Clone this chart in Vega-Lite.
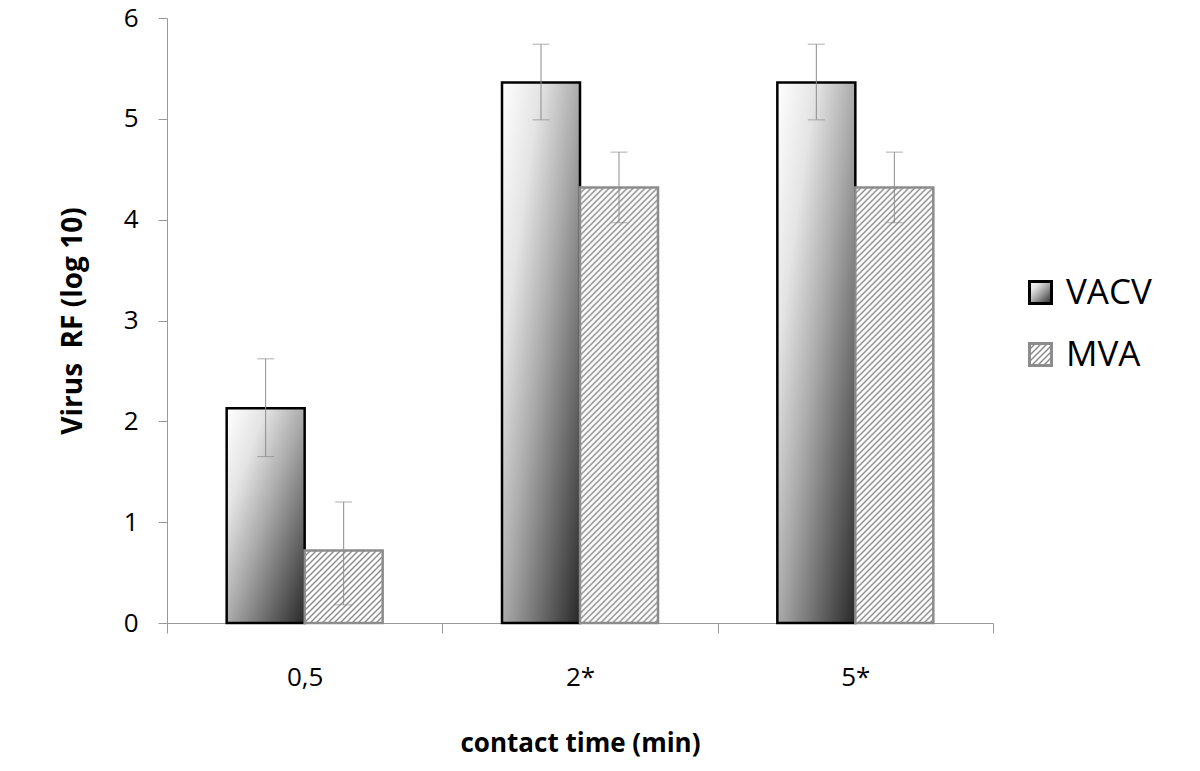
{
  "$schema": "https://vega.github.io/schema/vega-lite/v6.json",
  "autosize": "none",
  "width": 826,
  "height": 605,
  "padding": {"left": 167, "top": 18, "right": 207, "bottom": 148},
  "background": "white",
  "config": {
    "view": {"stroke": null},
    "font": "Open Sans",
    "axis": {"grid": false, "domainColor": "#999", "tickColor": "#999", "labelColor": "#000", "titleColor": "#000", "labelFont": "Open Sans", "titleFont": "Open Sans"}
  },
  "data": {
    "values": [
      {"time": "0,5", "series": "VACV", "value": 2.13, "lo": 1.65, "hi": 2.62},
      {"time": "0,5", "series": "MVA", "value": 0.72, "lo": 0.18, "hi": 1.2},
      {"time": "2*", "series": "VACV", "value": 5.36, "lo": 4.99, "hi": 5.74},
      {"time": "2*", "series": "MVA", "value": 4.32, "lo": 3.97, "hi": 4.67},
      {"time": "5*", "series": "VACV", "value": 5.36, "lo": 4.99, "hi": 5.74},
      {"time": "5*", "series": "MVA", "value": 4.32, "lo": 3.97, "hi": 4.67}
    ]
  },
  "encoding": {
    "x": {
      "field": "time", "type": "nominal", "sort": ["0,5", "2*", "5*"],
      "scale": {"paddingInner": 0, "paddingOuter": 0},
      "axis": {"title": "contact time (min)", "labelAngle": 0, "labelFontSize": 26, "labelPadding": 31, "tickSize": 10, "tickBand": "extent", "titleFontSize": 26, "titleFontWeight": "bold", "titlePadding": 40}
    },
    "xOffset": {"field": "series", "type": "nominal", "sort": ["VACV", "MVA"], "scale": {"paddingInner": 0, "paddingOuter": 0.765}}
  },
  "layer": [
    {
      "transform": [{"filter": "datum.series === 'VACV'"}],
      "mark": {"type": "bar", "strokeWidth": 2.5, "fill": {"id": "gradVacvBar", "gradient": "linear", "x1": 0, "y1": 0, "x2": 1, "y2": 1, "stops": [{"offset": 0, "color": "#ffffff"}, {"offset": 0.25, "color": "#e4e4e4"}, {"offset": 0.5, "color": "#ababab"}, {"offset": 0.75, "color": "#6a6a6a"}, {"offset": 1, "color": "#282828"}]}},
      "encoding": {
        "y": {"field": "value", "type": "quantitative", "scale": {"domain": [0, 6]}, "title": "Virus\u00a0 RF (log 10)",
          "axis": {"values": [0, 1, 2, 3, 4, 5, 6], "format": "d", "labelFontSize": 26, "labelPadding": 20, "tickSize": 9, "titleFontSize": 28, "titleFontWeight": "bold", "titlePadding": 36}},
        "stroke": {"field": "series", "type": "nominal", "scale": {"domain": ["VACV", "MVA"], "range": ["#000000", "#8c8c8c"]},
          "legend": {"orient": "none", "legendX": 856, "legendY": 257, "title": null, "symbolType": "square", "symbolSize": 484, "symbolStrokeWidth": 3, "labelFont": "Open Sans", "labelFontSize": 35, "labelColor": "#000", "labelOffset": 8, "rowPadding": 26, "padding": 0, "labelLimit": 400}
        }
      }
    },
    {
      "transform": [{"filter": "datum.series === 'MVA' && datum.time === '0,5'"}],
      "mark": {"type": "bar", "strokeWidth": 2.5, "stroke": "#8c8c8c", "fill": {"id": "gradMvaSmall", "gradient": "linear", "x1": 0, "y1": 0, "x2": 4.1215, "y2": 3.8362, "stops": [
{"offset":0,"color":"#888"},{"offset":0.0033,"color":"#fff"},{"offset":0.0067,"color":"#fff"},
{"offset":0.01,"color":"#888"},{"offset":0.0133,"color":"#fff"},{"offset":0.0167,"color":"#fff"},
{"offset":0.02,"color":"#888"},{"offset":0.0233,"color":"#fff"},{"offset":0.0267,"color":"#fff"},
{"offset":0.03,"color":"#888"},{"offset":0.0333,"color":"#fff"},{"offset":0.0367,"color":"#fff"},
{"offset":0.04,"color":"#888"},{"offset":0.0433,"color":"#fff"},{"offset":0.0467,"color":"#fff"},
{"offset":0.05,"color":"#888"},{"offset":0.0533,"color":"#fff"},{"offset":0.0567,"color":"#fff"},
{"offset":0.06,"color":"#888"},{"offset":0.0633,"color":"#fff"},{"offset":0.0667,"color":"#fff"},
{"offset":0.07,"color":"#888"},{"offset":0.0733,"color":"#fff"},{"offset":0.0767,"color":"#fff"},
{"offset":0.08,"color":"#888"},{"offset":0.0833,"color":"#fff"},{"offset":0.0867,"color":"#fff"},
{"offset":0.09,"color":"#888"},{"offset":0.0933,"color":"#fff"},{"offset":0.0967,"color":"#fff"},
{"offset":0.1,"color":"#888"},{"offset":0.1033,"color":"#fff"},{"offset":0.1067,"color":"#fff"},
{"offset":0.11,"color":"#888"},{"offset":0.1133,"color":"#fff"},{"offset":0.1167,"color":"#fff"},
{"offset":0.12,"color":"#888"},{"offset":0.1233,"color":"#fff"},{"offset":0.1267,"color":"#fff"},
{"offset":0.13,"color":"#888"},{"offset":0.1333,"color":"#fff"},{"offset":0.1367,"color":"#fff"},
{"offset":0.14,"color":"#888"},{"offset":0.1433,"color":"#fff"},{"offset":0.1467,"color":"#fff"},
{"offset":0.15,"color":"#888"},{"offset":0.1533,"color":"#fff"},{"offset":0.1567,"color":"#fff"},
{"offset":0.16,"color":"#888"},{"offset":0.1633,"color":"#fff"},{"offset":0.1667,"color":"#fff"},
{"offset":0.17,"color":"#888"},{"offset":0.1733,"color":"#fff"},{"offset":0.1767,"color":"#fff"},
{"offset":0.18,"color":"#888"},{"offset":0.1833,"color":"#fff"},{"offset":0.1867,"color":"#fff"},
{"offset":0.19,"color":"#888"},{"offset":0.1933,"color":"#fff"},{"offset":0.1967,"color":"#fff"},
{"offset":0.2,"color":"#888"},{"offset":0.2033,"color":"#fff"},{"offset":0.2067,"color":"#fff"},
{"offset":0.21,"color":"#888"},{"offset":0.2133,"color":"#fff"},{"offset":0.2167,"color":"#fff"},
{"offset":0.22,"color":"#888"},{"offset":0.2233,"color":"#fff"},{"offset":0.2267,"color":"#fff"},
{"offset":0.23,"color":"#888"},{"offset":0.2333,"color":"#fff"},{"offset":0.2367,"color":"#fff"},
{"offset":0.24,"color":"#888"},{"offset":0.2433,"color":"#fff"},{"offset":0.2467,"color":"#fff"},
{"offset":0.25,"color":"#888"},{"offset":0.2533,"color":"#fff"}
      ]}},
      "encoding": {
        "y": {"field": "value", "type": "quantitative", "title": "Virus\u00a0 RF (log 10)"}
      }
    },
    {
      "transform": [{"filter": "datum.series === 'MVA' && datum.time !== '0,5'"}],
      "mark": {"type": "bar", "strokeWidth": 2.5, "stroke": "#8c8c8c", "fill": {"id": "gradMvaBig", "gradient": "linear", "x1": 0, "y1": 0, "x2": 0.2391, "y2": 1.3349, "stops": [
{"offset":0,"color":"#888"},{"offset":0.0033,"color":"#fff"},{"offset":0.0067,"color":"#fff"},
{"offset":0.01,"color":"#888"},{"offset":0.0133,"color":"#fff"},{"offset":0.0167,"color":"#fff"},
{"offset":0.02,"color":"#888"},{"offset":0.0233,"color":"#fff"},{"offset":0.0267,"color":"#fff"},
{"offset":0.03,"color":"#888"},{"offset":0.0333,"color":"#fff"},{"offset":0.0367,"color":"#fff"},
{"offset":0.04,"color":"#888"},{"offset":0.0433,"color":"#fff"},{"offset":0.0467,"color":"#fff"},
{"offset":0.05,"color":"#888"},{"offset":0.0533,"color":"#fff"},{"offset":0.0567,"color":"#fff"},
{"offset":0.06,"color":"#888"},{"offset":0.0633,"color":"#fff"},{"offset":0.0667,"color":"#fff"},
{"offset":0.07,"color":"#888"},{"offset":0.0733,"color":"#fff"},{"offset":0.0767,"color":"#fff"},
{"offset":0.08,"color":"#888"},{"offset":0.0833,"color":"#fff"},{"offset":0.0867,"color":"#fff"},
{"offset":0.09,"color":"#888"},{"offset":0.0933,"color":"#fff"},{"offset":0.0967,"color":"#fff"},
{"offset":0.1,"color":"#888"},{"offset":0.1033,"color":"#fff"},{"offset":0.1067,"color":"#fff"},
{"offset":0.11,"color":"#888"},{"offset":0.1133,"color":"#fff"},{"offset":0.1167,"color":"#fff"},
{"offset":0.12,"color":"#888"},{"offset":0.1233,"color":"#fff"},{"offset":0.1267,"color":"#fff"},
{"offset":0.13,"color":"#888"},{"offset":0.1333,"color":"#fff"},{"offset":0.1367,"color":"#fff"},
{"offset":0.14,"color":"#888"},{"offset":0.1433,"color":"#fff"},{"offset":0.1467,"color":"#fff"},
{"offset":0.15,"color":"#888"},{"offset":0.1533,"color":"#fff"},{"offset":0.1567,"color":"#fff"},
{"offset":0.16,"color":"#888"},{"offset":0.1633,"color":"#fff"},{"offset":0.1667,"color":"#fff"},
{"offset":0.17,"color":"#888"},{"offset":0.1733,"color":"#fff"},{"offset":0.1767,"color":"#fff"},
{"offset":0.18,"color":"#888"},{"offset":0.1833,"color":"#fff"},{"offset":0.1867,"color":"#fff"},
{"offset":0.19,"color":"#888"},{"offset":0.1933,"color":"#fff"},{"offset":0.1967,"color":"#fff"},
{"offset":0.2,"color":"#888"},{"offset":0.2033,"color":"#fff"},{"offset":0.2067,"color":"#fff"},
{"offset":0.21,"color":"#888"},{"offset":0.2133,"color":"#fff"},{"offset":0.2167,"color":"#fff"},
{"offset":0.22,"color":"#888"},{"offset":0.2233,"color":"#fff"},{"offset":0.2267,"color":"#fff"},
{"offset":0.23,"color":"#888"},{"offset":0.2333,"color":"#fff"},{"offset":0.2367,"color":"#fff"},
{"offset":0.24,"color":"#888"},{"offset":0.2433,"color":"#fff"},{"offset":0.2467,"color":"#fff"},
{"offset":0.25,"color":"#888"},{"offset":0.2533,"color":"#fff"},{"offset":0.2567,"color":"#fff"},
{"offset":0.26,"color":"#888"},{"offset":0.2633,"color":"#fff"},{"offset":0.2667,"color":"#fff"},
{"offset":0.27,"color":"#888"},{"offset":0.2733,"color":"#fff"},{"offset":0.2767,"color":"#fff"},
{"offset":0.28,"color":"#888"},{"offset":0.2833,"color":"#fff"},{"offset":0.2867,"color":"#fff"},
{"offset":0.29,"color":"#888"},{"offset":0.2933,"color":"#fff"},{"offset":0.2967,"color":"#fff"},
{"offset":0.3,"color":"#888"},{"offset":0.3033,"color":"#fff"},{"offset":0.3067,"color":"#fff"},
{"offset":0.31,"color":"#888"},{"offset":0.3133,"color":"#fff"},{"offset":0.3167,"color":"#fff"},
{"offset":0.32,"color":"#888"},{"offset":0.3233,"color":"#fff"},{"offset":0.3267,"color":"#fff"},
{"offset":0.33,"color":"#888"},{"offset":0.3333,"color":"#fff"},{"offset":0.3367,"color":"#fff"},
{"offset":0.34,"color":"#888"},{"offset":0.3433,"color":"#fff"},{"offset":0.3467,"color":"#fff"},
{"offset":0.35,"color":"#888"},{"offset":0.3533,"color":"#fff"},{"offset":0.3567,"color":"#fff"},
{"offset":0.36,"color":"#888"},{"offset":0.3633,"color":"#fff"},{"offset":0.3667,"color":"#fff"},
{"offset":0.37,"color":"#888"},{"offset":0.3733,"color":"#fff"},{"offset":0.3767,"color":"#fff"},
{"offset":0.38,"color":"#888"},{"offset":0.3833,"color":"#fff"},{"offset":0.3867,"color":"#fff"},
{"offset":0.39,"color":"#888"},{"offset":0.3933,"color":"#fff"},{"offset":0.3967,"color":"#fff"},
{"offset":0.4,"color":"#888"},{"offset":0.4033,"color":"#fff"},{"offset":0.4067,"color":"#fff"},
{"offset":0.41,"color":"#888"},{"offset":0.4133,"color":"#fff"},{"offset":0.4167,"color":"#fff"},
{"offset":0.42,"color":"#888"},{"offset":0.4233,"color":"#fff"},{"offset":0.4267,"color":"#fff"},
{"offset":0.43,"color":"#888"},{"offset":0.4333,"color":"#fff"},{"offset":0.4367,"color":"#fff"},
{"offset":0.44,"color":"#888"},{"offset":0.4433,"color":"#fff"},{"offset":0.4467,"color":"#fff"},
{"offset":0.45,"color":"#888"},{"offset":0.4533,"color":"#fff"},{"offset":0.4567,"color":"#fff"},
{"offset":0.46,"color":"#888"},{"offset":0.4633,"color":"#fff"},{"offset":0.4667,"color":"#fff"},
{"offset":0.47,"color":"#888"},{"offset":0.4733,"color":"#fff"},{"offset":0.4767,"color":"#fff"},
{"offset":0.48,"color":"#888"},{"offset":0.4833,"color":"#fff"},{"offset":0.4867,"color":"#fff"},
{"offset":0.49,"color":"#888"},{"offset":0.4933,"color":"#fff"},{"offset":0.4967,"color":"#fff"},
{"offset":0.5,"color":"#888"},{"offset":0.5033,"color":"#fff"},{"offset":0.5067,"color":"#fff"},
{"offset":0.51,"color":"#888"},{"offset":0.5133,"color":"#fff"},{"offset":0.5167,"color":"#fff"},
{"offset":0.52,"color":"#888"},{"offset":0.5233,"color":"#fff"},{"offset":0.5267,"color":"#fff"},
{"offset":0.53,"color":"#888"},{"offset":0.5333,"color":"#fff"},{"offset":0.5367,"color":"#fff"},
{"offset":0.54,"color":"#888"},{"offset":0.5433,"color":"#fff"},{"offset":0.5467,"color":"#fff"},
{"offset":0.55,"color":"#888"},{"offset":0.5533,"color":"#fff"},{"offset":0.5567,"color":"#fff"},
{"offset":0.56,"color":"#888"},{"offset":0.5633,"color":"#fff"},{"offset":0.5667,"color":"#fff"},
{"offset":0.57,"color":"#888"},{"offset":0.5733,"color":"#fff"},{"offset":0.5767,"color":"#fff"},
{"offset":0.58,"color":"#888"},{"offset":0.5833,"color":"#fff"},{"offset":0.5867,"color":"#fff"},
{"offset":0.59,"color":"#888"},{"offset":0.5933,"color":"#fff"},{"offset":0.5967,"color":"#fff"},
{"offset":0.6,"color":"#888"},{"offset":0.6033,"color":"#fff"},{"offset":0.6067,"color":"#fff"},
{"offset":0.61,"color":"#888"},{"offset":0.6133,"color":"#fff"},{"offset":0.6167,"color":"#fff"},
{"offset":0.62,"color":"#888"},{"offset":0.6233,"color":"#fff"},{"offset":0.6267,"color":"#fff"},
{"offset":0.63,"color":"#888"},{"offset":0.6333,"color":"#fff"},{"offset":0.6367,"color":"#fff"},
{"offset":0.64,"color":"#888"},{"offset":0.6433,"color":"#fff"},{"offset":0.6467,"color":"#fff"},
{"offset":0.65,"color":"#888"},{"offset":0.6533,"color":"#fff"},{"offset":0.6567,"color":"#fff"},
{"offset":0.66,"color":"#888"},{"offset":0.6633,"color":"#fff"},{"offset":0.6667,"color":"#fff"},
{"offset":0.67,"color":"#888"},{"offset":0.6733,"color":"#fff"},{"offset":0.6767,"color":"#fff"},
{"offset":0.68,"color":"#888"},{"offset":0.6833,"color":"#fff"},{"offset":0.6867,"color":"#fff"},
{"offset":0.69,"color":"#888"},{"offset":0.6933,"color":"#fff"},{"offset":0.6967,"color":"#fff"},
{"offset":0.7,"color":"#888"},{"offset":0.7033,"color":"#fff"},{"offset":0.7067,"color":"#fff"},
{"offset":0.71,"color":"#888"},{"offset":0.7133,"color":"#fff"},{"offset":0.7167,"color":"#fff"},
{"offset":0.72,"color":"#888"},{"offset":0.7233,"color":"#fff"},{"offset":0.7267,"color":"#fff"},
{"offset":0.73,"color":"#888"},{"offset":0.7333,"color":"#fff"},{"offset":0.7367,"color":"#fff"},
{"offset":0.74,"color":"#888"},{"offset":0.7433,"color":"#fff"},{"offset":0.7467,"color":"#fff"},
{"offset":0.75,"color":"#888"},{"offset":0.7533,"color":"#fff"},{"offset":0.7567,"color":"#fff"},
{"offset":0.76,"color":"#888"},{"offset":0.7633,"color":"#fff"},{"offset":0.7667,"color":"#fff"},
{"offset":0.77,"color":"#888"},{"offset":0.7733,"color":"#fff"},{"offset":0.7767,"color":"#fff"},
{"offset":0.78,"color":"#888"},{"offset":0.7833,"color":"#fff"},{"offset":0.7867,"color":"#fff"},
{"offset":0.79,"color":"#888"},{"offset":0.7933,"color":"#fff"},{"offset":0.7967,"color":"#fff"},
{"offset":0.8,"color":"#888"},{"offset":0.8033,"color":"#fff"},{"offset":0.8067,"color":"#fff"},
{"offset":0.81,"color":"#888"},{"offset":0.8133,"color":"#fff"},{"offset":0.8167,"color":"#fff"},
{"offset":0.82,"color":"#888"},{"offset":0.8233,"color":"#fff"},{"offset":0.8267,"color":"#fff"},
{"offset":0.83,"color":"#888"},{"offset":0.8333,"color":"#fff"},{"offset":0.8367,"color":"#fff"},
{"offset":0.84,"color":"#888"},{"offset":0.8433,"color":"#fff"},{"offset":0.8467,"color":"#fff"},
{"offset":0.85,"color":"#888"},{"offset":0.8533,"color":"#fff"},{"offset":0.8567,"color":"#fff"},
{"offset":0.86,"color":"#888"},{"offset":0.8633,"color":"#fff"}
      ]}},
      "encoding": {
        "y": {"field": "value", "type": "quantitative", "title": "Virus\u00a0 RF (log 10)"}
      }
    },
    {
      "transform": [{"filter": "datum.series === 'MVA' && datum.time === '0,5'"}],
      "mark": {"type": "bar", "fill": {"id": "gradLegM", "gradient": "linear", "x1": 0, "y1": 0, "x2": 13.636, "y2": 13.636, "stops": [
{"offset":0,"color":"#888"},{"offset":0.0033,"color":"#fff"},{"offset":0.0067,"color":"#fff"},
{"offset":0.01,"color":"#888"},{"offset":0.0133,"color":"#fff"},{"offset":0.0167,"color":"#fff"},
{"offset":0.02,"color":"#888"},{"offset":0.0233,"color":"#fff"},{"offset":0.0267,"color":"#fff"},
{"offset":0.03,"color":"#888"},{"offset":0.0333,"color":"#fff"},{"offset":0.0367,"color":"#fff"},
{"offset":0.04,"color":"#888"},{"offset":0.0433,"color":"#fff"},{"offset":0.0467,"color":"#fff"},
{"offset":0.05,"color":"#888"},{"offset":0.0533,"color":"#fff"},{"offset":0.0567,"color":"#fff"},
{"offset":0.06,"color":"#888"},{"offset":0.0633,"color":"#fff"},{"offset":0.0667,"color":"#fff"},
{"offset":0.07,"color":"#888"},{"offset":0.0733,"color":"#fff"},{"offset":0.0767,"color":"#fff"},
{"offset":0.08,"color":"#888"}
      ]}},
      "encoding": {
        "y": {"datum": 0, "type": "quantitative", "title": "Virus\u00a0 RF (log 10)"},
        "y2": {"datum": 0}
      }
    },
    {
      "mark": {"type": "bar"},
      "encoding": {
        "y": {"datum": 0, "type": "quantitative", "title": "Virus\u00a0 RF (log 10)"},
        "y2": {"datum": 0},
        "fill": {"field": "series", "type": "nominal", "scale": {"domain": ["VACV", "MVA"], "range": ["url(#gradVacvBar)", "url(#gradLegM)"]},
          "legend": {"orient": "none", "legendX": 856, "legendY": 257, "title": null, "symbolType": "square", "symbolSize": 484, "symbolStrokeWidth": 3, "labelFont": "Open Sans", "labelFontSize": 35, "labelColor": "#000", "labelOffset": 8, "rowPadding": 26, "padding": 0, "labelLimit": 400}
        }
      }
    },
    {
      "mark": {"type": "rule", "color": "#8c8c8c", "strokeWidth": 1},
      "encoding": {
        "y": {"field": "lo", "type": "quantitative", "title": "Virus\u00a0 RF (log 10)"},
        "y2": {"field": "hi"}
      }
    },
    {
      "mark": {"type": "tick", "color": "#8c8c8c", "size": 17, "thickness": 1, "orient": "horizontal"},
      "encoding": {
        "y": {"field": "hi", "type": "quantitative", "title": "Virus\u00a0 RF (log 10)"}
      }
    },
    {
      "mark": {"type": "tick", "color": "#8c8c8c", "size": 17, "thickness": 1, "orient": "horizontal"},
      "encoding": {
        "y": {"field": "lo", "type": "quantitative", "title": "Virus\u00a0 RF (log 10)"}
      }
    }
  ]
}
